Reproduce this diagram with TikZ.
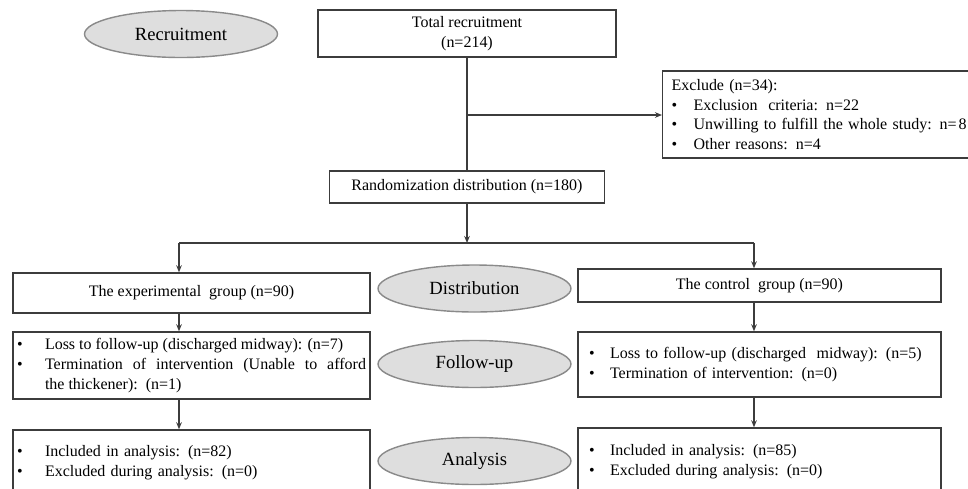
\documentclass[tikz,border=0pt]{standalone}
\usepackage{fontspec}
\setmainfont{Liberation Serif}
\usetikzlibrary{shapes,arrows.meta,positioning,calc}
\definecolor{linegray}{HTML}{3C3C3C}
\definecolor{stagefill}{HTML}{DEDEDE}
\definecolor{stagedraw}{HTML}{8A8A8A}
\newcommand{\boxfont}{\fontsize{9.1pt}{11.2pt}\selectfont}
\newcommand{\stagefont}{\fontsize{10.6pt}{12.7pt}\selectfont}
\newcommand{\bitem}[2]{\noindent\hangindent=#1\hangafter=1\makebox[#1][l]{\textbullet}#2\par}

\begin{document}
\begin{tikzpicture}[x=0.02cm,y=-0.02cm,
    box/.style={rectangle,draw=linegray,line width=0.8pt,fill=white,font=\boxfont,inner ysep=0pt},
    lbox/.style={box,minimum width=7.14cm,text width=6.98cm,inner xsep=0.08cm,align=left},
    rbox/.style={box,minimum width=7.26cm,text width=6.82cm,inner xsep=0.22cm,align=left},
    stage/.style={ellipse,draw=stagedraw,line width=0.8pt,fill=stagefill,minimum width=3.86cm,minimum height=0.94cm,inner sep=0pt,font=\stagefont},
    arr/.style={draw=linegray,line width=0.7pt,-{Stealth[length=4pt,width=3.2pt]}},
    link/.style={draw=linegray,line width=0.7pt}
  ]
  \useasboundingbox (0,0) rectangle (968,488);
  \clip (0,0) rectangle (968,488);

  \node[stage] (recr) at (181,34) {Recruitment};
  \node[stage] (dist) at (474.5,288.5) {Distribution};
  \node[stage] (fu) at (474.5,364) {Follow-up};
  \node[stage] (an) at (474.5,461) {Analysis};

  \node[box,minimum width=5.96cm,minimum height=0.94cm,align=center] (total) at (467,33.5) {Total recruitment\\(n=214)};
  \node[box,minimum width=5.5cm,minimum height=0.64cm] (rand) at (467,187) {Randomization distribution (n=180)};
  \node[box,anchor=west,text width=7.2cm,inner xsep=0.18cm,minimum height=1.74cm,align=left] (excl) at (662,114.5) {%
    \noindent Exclude (n=34):\par
    \bitem{0.44cm}{Exclusion\ \ criteria: n=22}%
    \bitem{0.44cm}{Unwilling to fulfill the whole study: n=\hspace{0.12em}8}%
    \bitem{0.44cm}{Other reasons: n=4}};

  \node[box,minimum width=7.14cm,minimum height=0.8cm] (exp) at (191.5,293) {The experimental\ \ group (n=90)};
  \node[box,minimum width=7.26cm,minimum height=0.66cm] (ctrl) at (759.5,285.5) {The control\ \ group (n=90)};

  \node[lbox,minimum height=1.34cm,align=justify] (expfu) at (191.5,365.5) {%
    \bitem{0.56cm}{Loss to follow-up (discharged midway): (n=7)}%
    \bitem{0.56cm}{Termination of intervention (Unable to afford\linebreak the thickener):\ \ (n=1)}};
  \node[rbox,minimum height=1.3cm] (ctrlfu) at (759.5,364.5) {%
    \bitem{0.42cm}{Loss to follow-up (discharged\ \ midway): (n=5)}%
    \bitem{0.42cm}{Termination of intervention: (n=0)}};

  \node[lbox,minimum height=1.32cm] (expan) at (191.5,463) {%
    \bitem{0.56cm}{Included in analysis: (n=82)}%
    \bitem{0.56cm}{Excluded during analysis: (n=0)}};
  \node[rbox,minimum height=1.36cm] (ctrlan) at (759.5,462) {%
    \bitem{0.42cm}{Included in analysis: (n=85)}%
    \bitem{0.42cm}{Excluded during analysis: (n=0)}};

  \coordinate (br) at (467,115);
  \coordinate (split) at (467,243);
  \coordinate (sl) at (179,243);
  \coordinate (sr) at (754,243);

  \draw[link] (total) -- (rand);
  \draw[arr] (br) -- (br -| excl.west);
  \draw[arr] (rand) -- (split);
  \draw[link] (sl) -- (sr);
  \draw[arr] (sl) -- (sl |- exp.north);
  \draw[arr] (sr) -- (sr |- ctrl.north);
  \draw[arr] (sl |- exp.south) -- (sl |- expfu.north);
  \draw[arr] (sl |- expfu.south) -- (sl |- expan.north);
  \draw[arr] (sr |- ctrl.south) -- (sr |- ctrlfu.north);
  \draw[arr] (sr |- ctrlfu.south) -- (sr |- ctrlan.north);
\end{tikzpicture}
\end{document}
